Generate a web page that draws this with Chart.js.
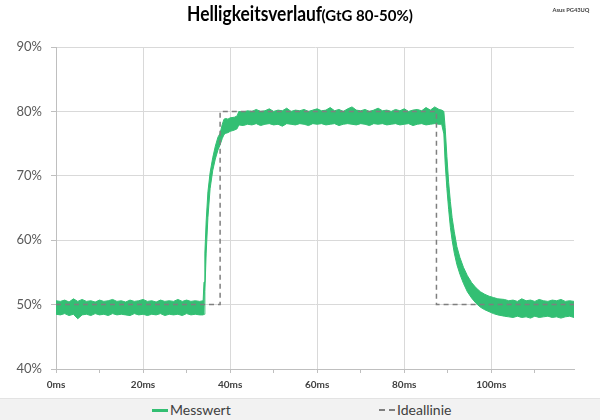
<!DOCTYPE html>
<html>
<head>
<meta charset="utf-8">
<script src="https://cdn.jsdelivr.net/npm/chart.js@4/dist/chart.umd.min.js"></script>
<style>
  body { margin: 0; background: #fff; }
  #wrap { position: relative; width: 600px; height: 420px; overflow: hidden; font-family: Lato, "Open Sans", sans-serif; }
  #titel { position: absolute; top: 3px; left: 0; width: 600px; text-align: center; color: #000; font-weight: bold; line-height: 20px; white-space: nowrap; }
  #titel .gross { display: inline-block; font-size: 20px; transform: scaleX(0.87); transform-origin: left center; margin-right: -21px; }
  #titel .klein { display: inline-block; font-size: 15px; }
  #geraet { position: absolute; top: 6px; right: 11px; font-size: 8px; font-weight: bold; color: #404040; transform: scale(0.72); transform-origin: right top; white-space: nowrap; }
  #chart { position: absolute; left: 0; top: 0; }
  #legende { position: absolute; left: 0; top: 398px; width: 600px; height: 22px; background: #f2f2f2; border-top: 1px solid #e3e3e3; }
  .eintrag { position: absolute; top: 2px; font-size: 14px; line-height: 17px; color: #404040; white-space: nowrap; }
  .muster { display: inline-block; width: 16px; height: 0; vertical-align: middle; margin-right: 2px; position: relative; top: -1px; }
</style>
</head>
<body>
<div id="wrap">
  <canvas id="chart" width="600" height="398"></canvas>
  <div id="titel"><span class="gross">Helligkeitsverlauf</span><span class="klein">(GtG 80-50%)</span></div>
  <div id="geraet">Asus PG43UQ</div>
  <div id="legende">
    <div class="eintrag" style="left:152px"><span class="muster" style="border-top:3px solid #33bf73"></span>Messwert</div>
    <div class="eintrag" style="left:379px"><span class="muster" style="border-top:2px dashed #7f7f7f"></span>Ideallinie</div>
  </div>
</div>
<script>
// Messwert als Band: obere und untere Kante des Rauschens (in %), Zeit in ms
const messZeit = [
  0, 1, 2, 3, 4, 5, 6, 7, 8, 9, 10, 11, 12, 13, 14, 15, 16, 17, 18, 19,
  20, 21, 22, 23, 24, 25, 26, 27, 28, 29, 30, 31, 32, 33, 33.8,
  34.0, 34.2, 34.5, 34.9, 35.4, 36.0, 36.6, 37.2, 37.7, 38.2, 38.6, 39.0, 39.5,
  40, 41, 41.6, 42, 43, 44, 45, 46, 47, 48, 49, 50, 51, 52, 53, 54, 55, 56, 57, 58, 59,
  60, 61, 62, 63, 64, 65, 66, 67, 68, 69, 70, 71, 72, 73, 74, 75, 76, 77, 78, 79,
  80, 81, 82, 83, 84, 85, 86, 87, 88, 88.6,
  89.1, 89.4, 89.8, 90.2, 90.6, 91.0, 91.5, 92.1, 92.8, 93.6, 94.5, 95.5, 96.5, 97.5, 98.5, 99.5, 100.5, 101.5,
  103, 104, 105, 106, 107, 108, 109, 110, 111, 112, 113, 114, 115, 116, 117, 118, 119
];
const messOben = [
  50.6, 50.5, 50.7, 50.4, 50.9, 50.5, 50.8, 50.5, 50.6, 50.4, 50.7, 50.5, 50.6, 50.8, 50.5, 50.6, 50.4, 50.7, 50.5, 50.6,
  50.8, 50.5, 50.6, 50.4, 50.7, 50.5, 50.6, 50.5, 50.8, 50.5, 50.7, 50.5, 50.6, 50.5, 50.6,
  53.5, 58.0, 63.0, 67.5, 70.5, 72.8, 74.6, 76.0, 76.6, 78.0, 78.8, 78.9, 78.8,
  79.0, 79.1, 79.3, 80.0, 79.9, 80.1, 80.0, 80.3, 80.0, 80.1, 80.4, 80.0, 80.2, 80.1, 80.5, 80.0, 80.2, 80.1, 80.3, 80.0, 80.2,
  80.4, 80.1, 80.2, 80.6, 80.1, 80.3, 80.0, 80.4, 80.7, 80.2, 80.1, 80.3, 80.0, 80.2, 80.5, 80.1, 80.2, 80.0, 80.3, 80.1,
  80.4, 80.0, 80.2, 80.3, 80.1, 80.6, 80.2, 80.7, 80.3, 80.2,
  80.0, 77.5, 73.0, 69.0, 66.0, 63.5, 61.3, 59.0, 57.3, 55.8, 54.5, 53.4, 52.6, 52.0, 51.6, 51.3, 51.1, 50.9,
  50.8, 50.6, 50.7, 50.5, 50.9, 50.6, 50.7, 50.5, 50.8, 50.6, 50.5, 50.7, 50.6, 50.8, 50.5, 50.6, 50.5
];
const messUnten = [
  48.5, 48.4, 48.6, 48.3, 48.5, 47.8, 48.4, 48.5, 48.3, 48.6, 48.4, 48.5, 48.3, 48.6, 48.4, 48.5, 48.4, 48.3, 48.6, 48.4,
  48.5, 48.3, 48.5, 48.4, 48.6, 48.3, 48.5, 48.4, 48.5, 48.3, 48.6, 48.4, 48.5, 48.4, 48.4,
  48.5, 52.0, 58.0, 63.5, 68.0, 70.8, 72.6, 74.0, 74.8, 75.8, 76.4, 76.6, 76.7,
  76.9, 77.1, 77.3, 77.9, 77.8, 78.0, 77.9, 78.1, 77.8, 78.0, 78.1, 77.9, 78.0, 77.7, 78.1, 78.0, 77.9, 78.1, 78.0, 77.8, 78.1,
  78.0, 78.1, 77.9, 78.0, 78.1, 77.8, 78.0, 78.1, 78.0, 77.9, 78.1, 78.0, 77.8, 78.1, 78.0, 78.1, 77.9, 78.0, 78.1, 77.9,
  78.0, 78.1, 77.8, 78.0, 78.1, 77.9, 78.0, 78.1, 78.0, 78.0,
  76.5, 72.0, 68.0, 64.8, 62.0, 60.0, 58.0, 56.2, 54.7, 53.3, 52.0, 51.0, 50.2, 49.6, 49.2, 48.9, 48.6, 48.4,
  48.2, 48.1, 48.0, 48.2, 48.0, 48.1, 47.9, 48.2, 48.0, 48.1, 48.2, 48.0, 48.1, 47.9, 48.1, 48.2, 48.0
];

// Ideallinie (Sprung 50 -> 80 -> 50 %)
const idealZeit = [0, 37.7, 37.7, 87.4, 87.4, 119];
const idealWert = [50, 50, 80, 80, 50, 50];

// Achsen
const yTicks = [40, 50, 60, 70, 80, 90];
const xLabels = [0, 20, 40, 60, 80, 100];

const gruen = "#33bf73";
const zuPunkten = (xs, ys) => xs.map((x, i) => ({ x: x, y: ys[i] }));

new Chart(document.getElementById("chart"), {
  type: "line",
  data: {
    datasets: [
      {
        label: "Ideallinie",
        data: zuPunkten(idealZeit, idealWert),
        borderColor: "#7f7f7f",
        borderWidth: 1.5,
        borderDash: [5, 4],
        pointRadius: 0,
        fill: false,
        order: 0,
      },
      {
        label: "Messwert",
        data: zuPunkten(messZeit, messOben),
        borderColor: gruen,
        backgroundColor: gruen,
        borderWidth: 1,
        pointRadius: 0,
        fill: "+1", // Fläche bis zur unteren Kante
        order: 1,
      },
      {
        label: "Messwert unten",
        data: zuPunkten(messZeit, messUnten),
        borderColor: gruen,
        borderWidth: 1,
        pointRadius: 0,
        fill: false,
        order: 2,
      },
    ],
  },
  options: {
    responsive: false,
    animation: false,
    devicePixelRatio: 1,
    layout: { padding: { left: 0, right: 26, top: 47, bottom: 0 } },
    plugins: {
      legend: { display: false },
      tooltip: { enabled: false },
    },
    scales: {
      x: {
        type: "linear",
        min: 0,
        max: 119,
        afterFit: (s) => { s.height = 29; },
        border: { color: "#bfbfbf" },
        grid: {
          color: (c) => (c.tick && c.tick.value % 20 === 0 ? "#d9d9d9" : "rgba(0,0,0,0)"),
          tickColor: (c) => (c.tick && c.tick.value % 10 === 0 ? "#bfbfbf" : "rgba(0,0,0,0)"),
          tickLength: 4,
        },
        ticks: {
          stepSize: 10,
          padding: 6,
          maxRotation: 0,
          autoSkip: false,
          color: "#404040",
          font: { family: "Lato", size: 10, weight: "bold" },
          callback: (v) => (xLabels.includes(v) ? v + "ms" : ""),
        },
      },
      y: {
        min: yTicks[0],
        max: yTicks[yTicks.length - 1],
        afterFit: (s) => { s.width = 56; },
        afterBuildTicks: (s) => { s.ticks = yTicks.map((v) => ({ value: v })); },
        border: { color: "#bfbfbf" },
        grid: { color: "#d9d9d9", tickColor: "#bfbfbf", tickLength: 5 },
        ticks: {
          padding: 9,
          color: "#595959",
          font: { family: "Lato", size: 13 },
          callback: (v) => v + "%",
        },
      },
    },
  },
});
</script>
</body>
</html>
